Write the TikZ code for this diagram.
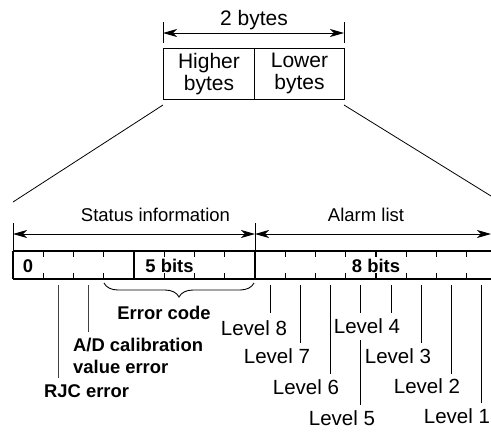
\documentclass[tikz,border=0pt]{standalone}
\usepackage{fontspec}
\setmainfont{Liberation Sans}
\usetikzlibrary{arrows.meta,decorations.pathreplacing}
\begin{document}
\begin{tikzpicture}[x=1pt,y=-1pt,
  toptxt/.style={font=\fontsize{21}{22}\selectfont},
  lbl/.style={font=\fontsize{20.5}{24}\selectfont, inner sep=0pt, anchor=base},
  hdr/.style={font=\fontsize{18.5}{22}\selectfont, inner sep=0pt, anchor=base},
  blbl/.style={font=\bfseries\fontsize{18.4}{22}\selectfont, inner sep=0pt, anchor=base},
  arr/.style={line width=0.9pt, {Stealth[length=14pt,width=8pt,inset=4pt]}-{Stealth[length=14pt,width=8pt,inset=4pt]}},
  thin/.style={line width=0.9pt},
  reg/.style={line width=1.3pt},
  lead/.style={line width=1pt},
  bytebox/.style={draw, line width=0.9pt, minimum height=51pt, inner sep=0pt, align=center, anchor=north west, toptxt}
]
\useasboundingbox (0,0) rectangle (491,432);

% top two-byte box
\node[bytebox, minimum width=91pt] (hi) at (163,48) {Higher\\bytes};
\node[bytebox, minimum width=90pt] (lo) at (254,48) {Lower\\bytes};
\coordinate (te1) at (163,22); \coordinate (te1b) at (163,43);
\coordinate (te2) at (344,22); \coordinate (te2b) at (344,43);
\draw[thin] (te1) -- (te1b);
\draw[thin] (te2) -- (te2b);
\coordinate (ta1) at (163,33); \coordinate (ta2) at (344,33);
\draw[arr] (ta1) -- (ta2);
\node[lbl, font=\fontsize{21}{22}\selectfont] (twob) at (254,25.5) {2 bytes};

% fan lines
\coordinate (f1a) at (163,105); \coordinate (f1b) at (13,202);
\coordinate (f2a) at (344,105); \coordinate (f2b) at (491,196);
\draw[line width=0.8pt] (f1a) -- (f1b);
\draw[line width=0.8pt] (f2a) -- (f2b);

% dimension lines above register
\coordinate (e1) at (13,223); \coordinate (e2) at (255,223);
\coordinate (r0t) at (13,251); \coordinate (r8t) at (255,251);
\draw[thin] (e1) -- (r0t);
\draw[thin] (e2) -- (r8t);
\coordinate (sa1) at (13,234); \coordinate (sa2) at (255,234); \coordinate (sa3) at (491,234);
\draw[arr] (sa1) -- (sa2);
\draw[arr] (sa2) -- (sa3);
\node[hdr] (stat) at (155.5,221) {Status information};
\node[hdr] (alarm) at (366,221) {Alarm list};

% register
\coordinate (rTL) at (13,251); \coordinate (rTR) at (491,251);
\coordinate (rBL) at (13,279); \coordinate (rBR) at (491,279);
\draw[reg] (rTL) -- (rTR);
\draw[reg] (rBL) -- (rBR);
\draw[reg] (13,251) -- (13,279);
\draw[reg] (134,251) -- (134,279);
\draw[reg] (255,251) -- (255,279);
\foreach \i in {1,2,3,5,6,7,9,10,11,12,13,14,15}{
  \draw[reg] ({13+30.25*\i},251) -- ({13+30.25*\i},257);
  \draw[reg] ({13+30.25*\i},279) -- ({13+30.25*\i},273);
}
\node[blbl] (zero) at (28,272.5) {0};
\node[blbl] (five) at (169.5,272.5) {5 bits};
\node[blbl] (eight) at (376,272.5) {8 bits};

% brace
\coordinate (b1) at (254,283); \coordinate (b2) at (104,283);
\draw[line width=0.9pt, decorate, decoration={brace, amplitude=14pt, aspect=0.5}] (b1) -- (b2);
\node[blbl] (err) at (164,319) {Error code};

% status leaders
\coordinate (rjc1) at (58.4,285); \coordinate (rjc2) at (58.4,378);
\coordinate (ad1) at (88.6,285); \coordinate (ad2) at (88.6,332);
\draw[reg, black!75] (rjc1) -- (rjc2);
\draw[reg, black!75] (ad1) -- (ad2);
\node[blbl, anchor=base west] (ad) at (73,351) {A/D calibration};
\node[blbl, anchor=base west] (adb) at (73,373) {value error};
\node[blbl, anchor=base west] (rjc) at (44,397) {RJC error};

% level leaders
\coordinate (l8a) at (270.1,285); \coordinate (l8b) at (270.1,313);
\coordinate (l7a) at (300.4,285); \coordinate (l7b) at (300.4,343);
\coordinate (l6a) at (330.6,285); \coordinate (l6b) at (330.6,374);
\coordinate (l5a) at (360.9,285); \coordinate (l5b) at (360.9,313);
\coordinate (l5c) at (360.9,340); \coordinate (l5d) at (360.9,405);
\coordinate (l4a) at (391.1,285); \coordinate (l4b) at (391.1,313);
\coordinate (l3a) at (421.4,285); \coordinate (l3b) at (421.4,343);
\coordinate (l2a) at (451.6,285); \coordinate (l2b) at (451.6,374);
\coordinate (l1a) at (481.9,285); \coordinate (l1b) at (481.9,403);
\draw[lead] (l8a) -- (l8b);
\draw[lead] (l7a) -- (l7b);
\draw[lead] (l6a) -- (l6b);
\draw[lead] (l5a) -- (l5b);
\draw[lead] (l5c) -- (l5d);
\draw[lead] (l4a) -- (l4b);
\draw[lead] (l3a) -- (l3b);
\draw[lead] (l2a) -- (l2b);
\draw[lead] (l1a) -- (l1b);
\node[lbl] (lv8) at (254,335) {Level 8};
\node[lbl] (lv7) at (277,363) {Level 7};
\node[lbl] (lv6) at (306,394) {Level 6};
\node[lbl] (lv5) at (342,425) {Level 5};
\node[lbl] (lv4) at (367,333.5) {Level 4};
\node[lbl] (lv3) at (398,363) {Level 3};
\node[lbl] (lv2) at (427,393) {Level 2};
\node[lbl] (lv1) at (457,423) {Level 1};
\end{tikzpicture}
\end{document}
